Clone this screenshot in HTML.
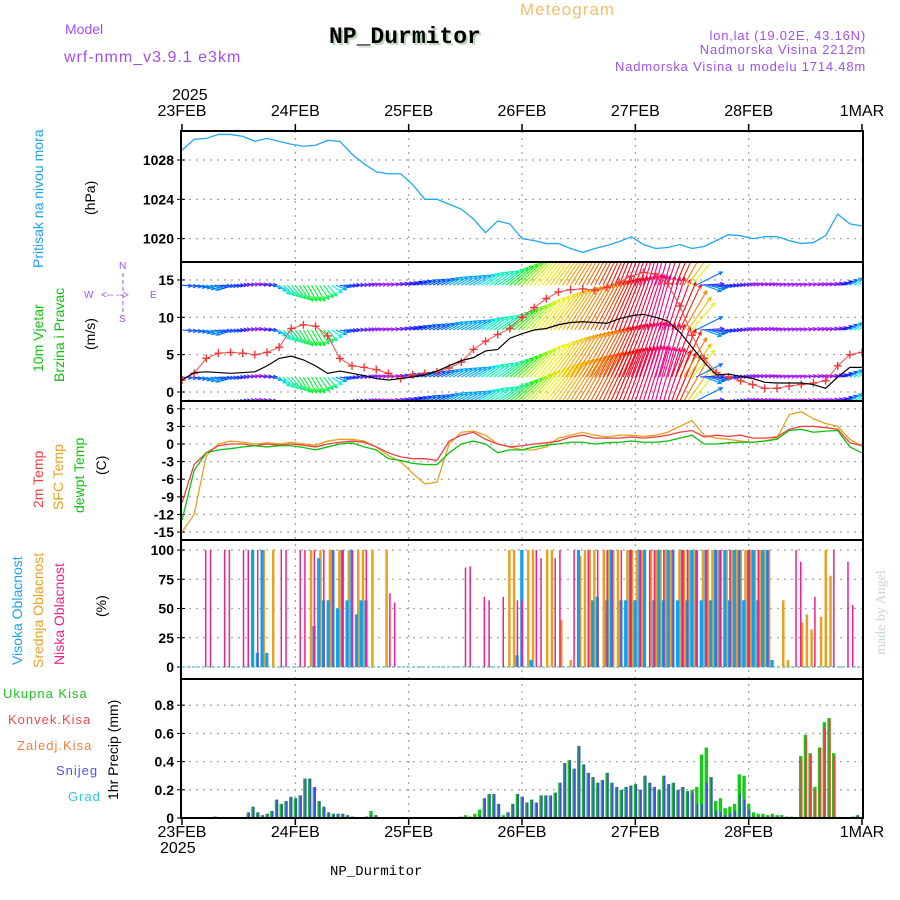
<!DOCTYPE html>
<html><head><meta charset="utf-8"><style>
html,body{margin:0;padding:0;background:#fff;}
svg{display:block;font-family:"Liberation Sans",sans-serif;}
</style></head><body>
<svg id="chart" width="900" height="900" viewBox="0 0 900 900" xmlns="http://www.w3.org/2000/svg">
<rect x="0" y="0" width="900" height="900" fill="#fff"/>
<text x="65" y="34" font-size="14" fill="#a050e8">Model</text>
<text x="64" y="62" font-size="16" fill="#a050e8" letter-spacing="1">wrf-nmm_v3.9.1 e3km</text>
<text x="520" y="15" font-size="17" fill="#f0c070" letter-spacing="1">Meteogram</text>
<text x="331" y="45" font-size="23" font-weight="bold" fill="#bcd8bc" font-family="Liberation Mono, monospace">NP_Durmitor</text>
<text x="329" y="43" font-size="23" font-weight="bold" fill="#000" font-family="Liberation Mono, monospace">NP_Durmitor</text>
<text x="866" y="40" font-size="13" fill="#a050e8" text-anchor="end" letter-spacing="0.8">lon,lat (19.02E, 43.16N)</text>
<text x="866" y="54" font-size="13" fill="#a050e8" text-anchor="end" letter-spacing="0.8">Nadmorska Visina 2212m</text>
<text x="866" y="71" font-size="13" fill="#a050e8" text-anchor="end" letter-spacing="0.8">Nadmorska Visina u modelu 1714.48m</text>
<text x="172" y="100" font-size="16" fill="#000">2025</text>
<text x="160" y="853" font-size="16" fill="#000">2025</text>
<text x="330" y="875" font-size="14" fill="#000" font-family="Liberation Mono, monospace">NP_Durmitor</text>
<text transform="translate(885,655) rotate(-90)" font-size="14" fill="#c8d8c8" font-family="Liberation Serif, serif">made by Angel</text>

<!-- left labels -->
<text transform="translate(43,268) rotate(-90)" font-size="14" fill="#20a0f0">Pritisak na nivou mora</text>
<text transform="translate(95,215) rotate(-90)" font-size="14" fill="#000">(hPa)</text>
<text transform="translate(43,372) rotate(-90)" font-size="14" fill="#10c010">10m Vjetar</text>
<text transform="translate(64,382) rotate(-90)" font-size="14" fill="#10c010">Brzina i Pravac</text>
<text transform="translate(95,350) rotate(-90)" font-size="14" fill="#000">(m/s)</text>
<g fill="#a050e8" font-size="10">
<text x="119" y="269">N</text><text x="119" y="322">S</text><text x="84" y="298">W</text><text x="150" y="298">E</text>
<text x="101" y="298">&lt;-- --&gt;</text>
<line x1="123" y1="273" x2="123" y2="312" stroke="#a050e8" stroke-dasharray="4,3"/>
</g>
<text transform="translate(43,508) rotate(-90)" font-size="14" fill="#f04040">2m Temp</text>
<text transform="translate(63,510) rotate(-90)" font-size="14" fill="#e8a020">SFC Temp</text>
<text transform="translate(84,513) rotate(-90)" font-size="14" fill="#10c010">dewpt Temp</text>
<text transform="translate(106,475) rotate(-90)" font-size="14" fill="#000">(C)</text>
<text transform="translate(22,665) rotate(-90)" font-size="14" fill="#20a0f0">Visoka Oblacnost</text>
<text transform="translate(43,668) rotate(-90)" font-size="14" fill="#e8a020">Srednja Oblacnost</text>
<text transform="translate(64,665) rotate(-90)" font-size="14" fill="#f0208a">Niska Oblacnost</text>
<text transform="translate(106,617) rotate(-90)" font-size="14" fill="#000">(%)</text>
<text x="3" y="698" font-size="13" fill="#20c020" letter-spacing="1">Ukupna Kisa</text>
<text x="8" y="724" font-size="13" fill="#f04848" letter-spacing="1">Konvek.Kisa</text>
<text x="17" y="750" font-size="13" fill="#f08040" letter-spacing="1">Zaledj.Kisa</text>
<text x="56" y="775" font-size="13" fill="#5050f0" letter-spacing="1">Snijeg</text>
<text x="68" y="801" font-size="13" fill="#30c8d0" letter-spacing="1">Grad</text>
<text transform="translate(118,800) rotate(-90)" font-size="14" fill="#000">1hr Precip (mm)</text>
<g id="plot"></g>
</svg>
<script>
// ---------- data ----------
const dayLabels = ["23FEB","24FEB","25FEB","26FEB","27FEB","28FEB","1MAR"];
const pressureTicks = [1020,1024,1028];
const windTicks = [0,5,10,15];
const tempTicks = [-15,-12,-9,-6,-3,0,3,6];
const cloudTicks = [0,25,50,75,100];
const precipTicks = [0,0.2,0.4,0.6,0.8];
const precipTickLabels = ["0","0.2","0.4","0.6","0.8"];

// 57 samples across the 144-hour window
const pressure = [1029,1030.1,1030.2,1030.6,1030.6,1030.4,1029.9,1030.2,1029.9,1029.6,1029.4,1029.5,1030,1029.9,1028.6,1027.6,1026.8,1026.6,1026.6,1025.5,1024,1024,1023.5,1023,1022,1020.6,1021.8,1021.5,1020,1019.8,1019.5,1019.5,1019,1018.6,1019,1019.3,1019.7,1020.2,1019.4,1019,1019.1,1019.4,1019,1019.2,1019.8,1020.4,1020.3,1020,1020.2,1020.2,1019.8,1019.5,1019.6,1020.3,1022.5,1021.5,1021.3];
const windDir = [95,100,110,95,95,85,80,90,130,140,150,150,140,100,90,85,80,80,75,70,65,65,60,60,60,55,55,50,45,40,38,35,32,30,28,25,22,20,18,15,18,25,40,110,95,90,85,80,80,80,80,80,80,80,75,60,55];
const windLen = [10,12,14,12,10,8,8,10,14,16,18,18,14,10,8,8,6,6,8,10,12,14,16,18,20,22,25,30,35,40,45,48,50,52,54,55,56,57,58,56,55,50,35,18,14,12,10,8,8,6,6,6,8,8,10,14,18];
const windSpeed = [1.6,2.6,2.7,2.6,2.5,2.6,2.7,3.5,4.5,4.8,4.3,3.5,2.5,2.8,2.5,2.2,1.8,1.6,1.8,2,2.3,2.8,3.5,4.2,4.6,5.5,5.7,7.2,7.8,8.3,8.5,9,9.3,9.4,9.3,9.2,9.8,10.2,10.4,10,9.5,8,6,4,2.3,2.4,2.1,1.8,1.3,1.2,1.2,1.2,1,0.5,2,3.3,3.3];
const windGust = [1.6,2.5,4.5,5.2,5.3,5.2,5,5.3,6,8.5,9,8.8,7.5,4.5,3.5,3.3,3,2.5,1.8,2.3,2.5,2.7,3.2,4,5.7,6.8,7.7,8.5,10,11.3,12.5,13.4,13.7,13.8,13.6,14,14.7,15.5,16,15.8,14.5,11.5,7.6,4.5,2.6,2,1.5,1,0.5,0.5,0.8,1,1.2,1.5,3.5,5,5.3];
const windRows = [14.3,8.3,2.0,-1.2];
const temp2m = [-10,-3.5,-1.5,-0.3,0,0,-0.3,0,-0.2,0,-0.2,-0.5,0,0.3,0.5,0.3,-0.5,-1.5,-2.2,-2.5,-2.5,-2.8,0.5,1.5,2,0.8,0,-0.5,-0.3,0,0.2,0.5,1.2,1.5,1,1,1,1.2,1,1.2,1.5,2,2.3,1.2,1.5,1.3,1.5,1,1,1.2,2.5,3,3,2.8,2.5,0.2,-0.3];
const tempSfc = [-15,-12,-2,0,0.5,0.3,0,0.2,0,0.3,0,-0.2,0.5,0.8,0.8,0.5,-0.5,-2,-3,-5,-6.8,-6.5,0,2,2.2,1.5,0,-0.5,-1,-1,-0.5,1,1.5,2,1.5,1.2,1.5,1.5,1.3,1.5,2,3,4,1.5,1,0.8,0.5,0.3,0.5,1,5,5.5,4.3,3.5,3,0.8,-0.3];
const dewpt = [-13,-4.5,-1.5,-1,-0.8,-0.5,-0.3,-0.5,-0.3,-0.3,-0.6,-1,-0.5,0,0.2,-0.5,-1,-2.5,-2.8,-3.3,-3.5,-3.5,-1.5,0,0.5,0,-1.5,-1,-1,-0.5,-0.2,0,0.3,0.3,0,0.2,0.3,0.5,0.3,0.3,0.5,1,1.5,0,0,0.2,0.3,0.3,0.5,0.8,2.3,2.5,2,2.2,2.3,-0.5,-1.5];

// hourly (145 values, hours 0..144)
const cloudHigh = [0,0,0,0,0,0,0,0,0,0,0,0, 0,0,0,100,12,100,12,0,0,0,0,0, 0,0,0,0,35,93,57,57,100,50,100,57, 100,45,57,57,0,0,0,0,0,0,0,0, 0,0,0,0,0,0,0,0,0,0,0,0, 0,0,0,0,0,0,0,0,0,0,0,10, 100,0,6,0,0,0,0,0,0,0,0,0, 100,0,0,57,60,0,57,100,0,57,57,100, 57,100,100,0,57,100,57,100,100,57,100,57, 100,100,57,100,57,100,100,100,57,100,100,57, 100,100,57,100,100,6,0,0,0,0,0,0, 0,0,0,0,0,0,0,0,0,0,0,0,0];
const cloudMid = [0,0,0,0,0,0,0,0,0,0,0,0, 0,0,0,0,0,100,0,100,0,0,0,0, 0,0,0,100,0,100,0,100,0,100,0,100, 0,100,100,0,100,0,0,100,0,0,0,0, 0,0,0,0,0,0,0,0,0,0,0,0, 0,0,0,0,0,0,0,0,0,100,100,0, 0,100,100,0,0,100,100,0,40,0,6,0, 95,100,100,100,0,100,100,100,100,0,100,100, 100,100,0,100,100,100,100,100,0,100,100,100, 100,0,100,100,100,100,0,100,100,100,100,100, 100,100,100,100,100,0,0,57,6,0,0,38, 45,32,0,43,100,78,0,0,0,0,0,0,0];
const cloudLow = [0,0,0,0,0,100,100,0,0,100,100,0, 0,100,100,0,100,0,0,0,0,100,100,0, 0,100,100,0,100,0,100,0,100,0,100,0, 100,0,0,100,0,0,0,0,63,55,0,0, 0,0,0,0,0,0,0,0,0,0,0,0, 85,86,0,0,60,57,0,0,60,0,0,57, 57,0,0,100,93,0,0,93,100,0,0,100, 0,0,100,0,100,0,100,100,0,100,0,100, 0,100,0,100,100,0,100,0,100,0,100,100, 0,100,0,100,0,100,100,0,100,0,100,0, 100,0,100,0,100,0,0,0,0,0,100,90, 0,0,60,0,0,0,100,0,0,90,53,0,0];
const precipTotal = [0,0,0,0,0,0,0,0.01,0,0,0,0, 0,0,0.04,0.08,0.04,0.02,0.03,0.05,0.13,0.1,0.12,0.15, 0.14,0.16,0.28,0.28,0.22,0.12,0.08,0.04,0.03,0.03,0.03,0.02, 0.01,0,0,0.01,0.05,0.02,0,0,0,0,0,0, 0,0,0,0,0,0,0,0,0,0,0,0.01, 0.02,0.01,0.03,0.06,0.14,0.17,0.17,0.1,0.02,0.04,0.1,0.17, 0.15,0.11,0.13,0.11,0.16,0.16,0.16,0.18,0.25,0.39,0.41,0.35, 0.51,0.38,0.32,0.29,0.25,0.27,0.32,0.25,0.22,0.2,0.22,0.23, 0.24,0.2,0.3,0.25,0.22,0.2,0.3,0.24,0.25,0.2,0.22,0.19, 0.2,0.22,0.45,0.5,0.29,0.12,0.14,0.07,0.08,0.1,0.31,0.3, 0.1,0.04,0.03,0.03,0.02,0.03,0.02,0.02,0.01,0.01,0,0.44, 0.59,0.46,0.22,0.5,0.68,0.71,0.46,0,0,0,0.01,0.02,0];
const precipSnow = [0,0,0,0,0,0,0,0.01,0,0,0,0, 0,0,0.04,0.08,0.04,0.02,0.03,0.05,0.13,0.1,0.12,0.15, 0.14,0.16,0.28,0.28,0.22,0.12,0.08,0.04,0.03,0.03,0.03,0.02, 0.01,0,0,0.01,0.02,0.02,0,0,0,0,0,0, 0,0,0,0,0,0,0,0,0,0,0,0, 0,0,0,0.02,0.14,0.17,0.17,0.1,0.01,0.04,0.1,0.17, 0.15,0.11,0.13,0.11,0.16,0.16,0.16,0.18,0.25,0.39,0.41,0.35, 0.51,0.38,0.32,0.29,0.25,0.27,0.32,0.25,0.22,0.2,0.22,0.23, 0.24,0.2,0.3,0.25,0.22,0.2,0.3,0.24,0.25,0.2,0.22,0.19, 0.18,0.1,0.1,0.25,0.29,0.05,0.04,0.02,0.03,0.05,0.17,0.13, 0.06,0.01,0.01,0.01,0.01,0.01,0.01,0,0,0,0,0, 0,0,0,0,0,0,0,0,0,0,0.01,0.02,0];
const precipConv = [0,0,0,0,0,0,0,0,0,0,0,0, 0,0,0,0,0,0,0,0,0,0,0,0, 0,0,0,0,0,0,0,0,0,0,0,0, 0,0,0,0,0,0,0,0,0,0,0,0, 0,0,0,0,0,0,0,0,0,0,0,0, 0,0,0,0,0,0,0,0,0,0,0,0, 0,0,0,0,0,0,0,0,0,0,0,0, 0,0,0,0,0,0,0,0,0,0,0,0, 0,0,0,0,0,0,0,0,0,0,0,0, 0,0,0,0,0,0,0,0,0,0,0,0, 0,0,0,0,0,0,0,0,0,0,0,0.42, 0.57,0.45,0.2,0.5,0.64,0.7,0.44,0,0,0,0,0,0];

// ---------- layout ----------
const X0 = 182, X1 = 862, HOURS = 144;
const xH = h => X0 + h * (X1 - X0) / HOURS;
const xS = i => xH(i * HOURS / (pressure.length - 1));
const yP = v => 160 + (1028 - v) * 9.83;
const yW = v => 392 - v * 7.47;
const yT = v => 444 - v * 5.87;
const yC = v => 667 - v * 1.17;
const yR = v => 818 - v * 141;
const panels = [[131,262],[262,401],[401,540],[540,679],[679,818]];
const NS = 'http://www.w3.org/2000/svg';
const plot = document.getElementById('plot');
function mk(tag, attrs, parent) {
  const e = document.createElementNS(NS, tag);
  for (const k in attrs) e.setAttribute(k, attrs[k]);
  (parent || plot).appendChild(e);
  return e;
}
const defs = mk('defs', {});
panels.forEach((p, i) => {
  const c = mk('clipPath', {id: 'clip' + i}, defs);
  mk('rect', {x: X0, y: p[0] + 1, width: X1 - X0, height: p[1] - p[0] - 2}, c);
});
const grid = mk('g', {stroke: '#a8a8a8', 'stroke-width': 1.3, 'stroke-dasharray': '2,5'});


for (let d = 1; d < 6; d++) mk('line', {x1: xH(d * 24), x2: xH(d * 24), y1: 131, y2: 818}, grid);
function hgrid(ticks, fy, name, labels) {
  const g = mk('g', {});
  
  
  ticks.forEach((t, i) => {
    const y = fy(t);
    mk('line', {x1: X0, x2: X1, y1: y, y2: y, stroke: '#a8a8a8', 'stroke-width': 1.3, 'stroke-dasharray': '2,5'}, g);
    mk('line', {x1: 177, x2: 185, y1: y, y2: y, stroke: '#000', 'stroke-width': 1}, g);
    const tx = mk('text', {x: 174, y: y + 5, 'text-anchor': 'end', 'font-size': 14, 'font-weight': 'bold', fill: '#000'}, g);
    tx.textContent = labels ? labels[i] : String(t);
  });
}
hgrid(pressureTicks, yP, 'pressure-y-axis');
hgrid(windTicks, yW, 'wind-y-axis');
hgrid(tempTicks, yT, 'temp-y-axis');
hgrid(cloudTicks, yC, 'cloud-y-axis');
hgrid(precipTicks, yR, 'precip-y-axis', precipTickLabels);

dayLabels.forEach((d, i) => {
  const x = xH(i * 24);
  const t1 = mk('text', {x: x, y: 116, 'text-anchor': 'middle', 'font-size': 16, fill: '#000'});
  
  
  t1.textContent = d;
  const t2 = mk('text', {x: x, y: 837, 'text-anchor': 'middle', 'font-size': 16, fill: '#000'});
  
  
  t2.textContent = d;
  mk('line', {x1: x, x2: x, y1: 124, y2: 131, stroke: '#000', 'stroke-width': 1.5});
  mk('line', {x1: x, x2: x, y1: 818, y2: 825, stroke: '#000', 'stroke-width': 1.5});
});

const pp = mk('polyline', {points: pressure.map((v, i) => xS(i) + ',' + yP(v)).join(' '), fill: 'none', stroke: '#20a8f0', 'stroke-width': 1.3, 'clip-path': 'url(#clip0)'});



const hueDirs = [15,22,30,38,45,60,80,95,120,150];
const hueVals = [325,355,390,415,450,560,635,585,550,490];
function hueFor(d) {
  if (d <= hueDirs[0]) return hueVals[0] % 360;
  for (let k = 1; k < hueDirs.length; k++) if (d <= hueDirs[k]) {
    const f = (d - hueDirs[k-1]) / (hueDirs[k] - hueDirs[k-1]);
    return (hueVals[k-1] + f * (hueVals[k] - hueVals[k-1])) % 360;
  }
  return hueVals[hueVals.length-1] % 360;
}
const wg = mk('g', {'clip-path': 'url(#clip1)', 'stroke-width': 1.1});


const SUB = 3;
for (let i = 0; i < windDir.length; i++) {
  for (let s = 0; s < SUB; s++) {
    if (i === windDir.length - 1 && s > 0) break;
    const j = Math.min(i + 1, windDir.length - 1), f = s / SUB;
    const dir = windDir[i] + f * (windDir[j] - windDir[i]);
    const len = windLen[i] + f * (windLen[j] - windLen[i]);
    const x = xS(i + f);
    const col = 'hsl(' + hueFor(dir).toFixed(0) + ',100%,' + (dir > 70 && dir < 100 ? 55 : 48) + '%)';
    const r = dir * Math.PI / 180;
    windRows.forEach(rv => {
      const y = yW(rv);
      const tx = x + len * Math.sin(r), ty = y - len * Math.cos(r);
      const a = mk('line', {x1: x, y1: y, x2: tx, y2: ty, stroke: col}, wg);
      
      
      const h1 = r + Math.PI * 0.85, h2 = r - Math.PI * 0.85;
      mk('polyline', {points: (tx + 4*Math.sin(h1)) + ',' + (ty - 4*Math.cos(h1)) + ' ' + tx + ',' + ty + ' ' + (tx + 4*Math.sin(h2)) + ',' + (ty - 4*Math.cos(h2)), fill: 'none', stroke: col}, wg);
    });
  }
}
const gl = mk('polyline', {points: windGust.map((v, i) => xS(i) + ',' + yW(v)).join(' '), fill: 'none', stroke: '#f05050', 'stroke-width': 1, 'clip-path': 'url(#clip1)'});


windGust.forEach((v, i) => {
  const x = xS(i), y = yW(v);
  const m = mk('path', {d: 'M' + (x-4) + ' ' + y + 'H' + (x+4) + 'M' + x + ' ' + (y-4) + 'V' + (y+4), stroke: '#f03838', 'stroke-width': 1.4, 'clip-path': 'url(#clip1)'});
  
  
});
const sl = mk('polyline', {points: windSpeed.map((v, i) => xS(i) + ',' + yW(v)).join(' '), fill: 'none', stroke: '#000', 'stroke-width': 1.2, 'clip-path': 'url(#clip1)'});



const t1 = mk('polyline', {points: tempSfc.map((v, i) => xS(i) + ',' + yT(v)).join(' '), fill: 'none', stroke: '#e8a020', 'stroke-width': 1.3, 'clip-path': 'url(#clip2)'});


const t2 = mk('polyline', {points: temp2m.map((v, i) => xS(i) + ',' + yT(v)).join(' '), fill: 'none', stroke: '#f04040', 'stroke-width': 1.3, 'clip-path': 'url(#clip2)'});


const t3 = mk('polyline', {points: dewpt.map((v, i) => xS(i) + ',' + yT(v)).join(' '), fill: 'none', stroke: '#10c010', 'stroke-width': 1.3, 'clip-path': 'url(#clip2)'});



const cb = mk('line', {x1: X0, x2: X1, y1: yC(0), y2: yC(0), stroke: '#70c8d8', 'stroke-width': 1.5, 'stroke-dasharray': '3,2'});


for (let h = 0; h <= HOURS; h++) {
  const x = xH(h);
  if (cloudMid[h] > 0) {
    const b = mk('rect', {x: x + 0.3, y: yC(cloudMid[h]), width: 2.5, height: yC(0) - yC(cloudMid[h]), fill: '#e8a020'});
    
    
  }
  if (cloudHigh[h] > 0) {
    const b = mk('rect', {x: x - 1.8, y: yC(cloudHigh[h]), width: 3.2, height: yC(0) - yC(cloudHigh[h]), fill: '#10a0f0'});
    
    
  }
  if (cloudLow[h] > 0) {
    const b = mk('rect', {x: x - 0.6, y: yC(cloudLow[h]), width: 1.5, height: yC(0) - yC(cloudLow[h]), fill: '#f0208a'});
    
    
  }
}

for (let h = 0; h <= HOURS; h++) {
  const x = xH(h);
  if (precipTotal[h] > 0) {
    const b = mk('rect', {x: x - 1.6, y: yR(precipTotal[h]), width: 3.4, height: yR(0) - yR(precipTotal[h]), fill: '#18c818'});
    
    
  }
  if (precipSnow[h] > 0) {
    const b = mk('rect', {x: x - 0.2, y: yR(precipSnow[h]), width: 1.9, height: yR(0) - yR(precipSnow[h]), fill: '#4848f0'});
    
    
  }
  if (precipConv[h] > 0) {
    const b = mk('rect', {x: x - 0.2, y: yR(precipConv[h]), width: 1.9, height: yR(0) - yR(precipConv[h]), fill: '#f04040'});
    
    
  }
}

const fr = mk('g', {stroke: '#000', 'stroke-width': 2, fill: 'none'});


mk('line', {x1: X0 - 1, x2: X0 - 1, y1: 130, y2: 819}, fr);
mk('line', {x1: X1 + 1, x2: X1 + 1, y1: 130, y2: 819}, fr);
[131, 262, 401, 540, 679, 818].forEach(y => mk('line', {x1: X0 - 2, x2: X1 + 2, y1: y, y2: y}, fr));
</script>
</body></html>
